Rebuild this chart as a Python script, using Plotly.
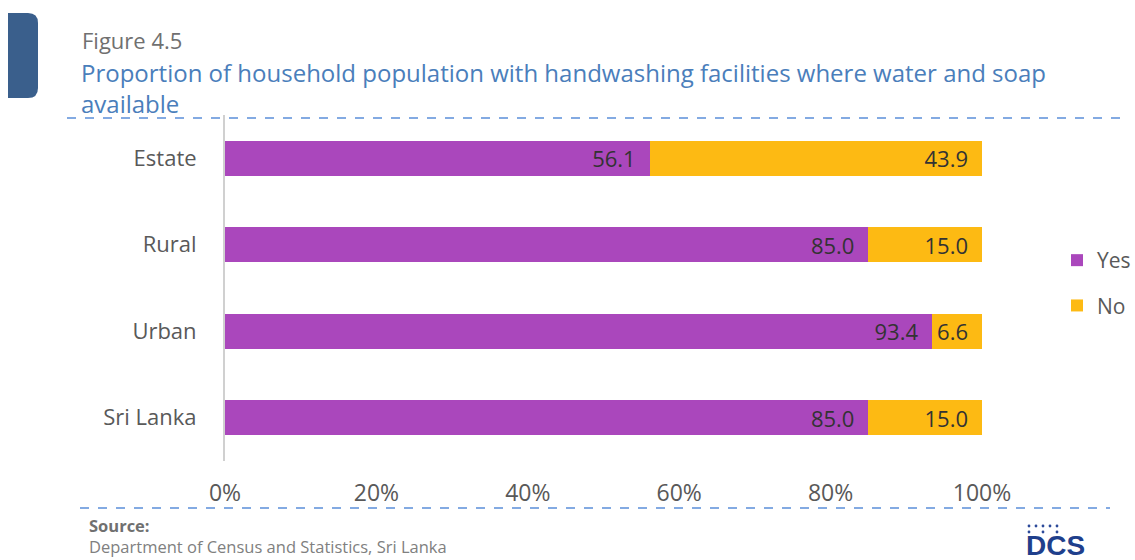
import plotly.graph_objects as go

# Data
categories = ["Estate", "Rural", "Urban", "Sri Lanka"]
yes_values = [56.1, 85.0, 93.4, 85.0]
no_values = [43.9, 15.0, 6.6, 15.0]
x_ticks = [0, 20, 40, 60, 80, 100]
x_tick_labels = ["0%", "20%", "40%", "60%", "80%", "100%"]

W, H = 1135, 560
L, R, T, B = 225, 153, 115, 99
PW, PH = W - L - R, H - T - B


def px(x):
    return (x - L) / PW


def py(y):
    return (H - B - y) / PH


FONT = "'Open Sans', 'Noto Sans', sans-serif"
PURPLE = "#AA47BC"
ORANGE = "#FDBA13"
BLUE_DASH = "#5B8FD9"
LABEL_PAD = "\u2002"  # keeps value labels off the bar ends

fig = go.Figure()
fig.add_trace(go.Bar(
    y=categories, x=yes_values, name="Yes", orientation="h",
    marker=dict(color=PURPLE, line=dict(width=0)),
    text=yes_values, texttemplate="%{x:.1f}" + LABEL_PAD, textposition="inside",
    insidetextanchor="end", textangle=0,
    textfont=dict(color="#333333", size=22, family=FONT),
    legendgroup="yes", width=0.4,
))
fig.add_trace(go.Bar(
    y=categories, x=no_values, name="No", orientation="h",
    marker=dict(color=ORANGE, line=dict(width=0)),
    text=no_values, texttemplate="%{x:.1f}" + LABEL_PAD, textposition="inside",
    insidetextanchor="end", textangle=0,
    textfont=dict(color="#333333", size=22, family=FONT),
    legendgroup="no", width=0.4,
))

shapes = [
    # dashed rules above and below the chart
    dict(type="line", xref="paper", yref="paper", x0=px(67), x1=px(1128),
         y0=py(118), y1=py(118), line=dict(color=BLUE_DASH, width=1.5, dash="dash")),
    dict(type="line", xref="paper", yref="paper", x0=px(80), x1=px(1110),
         y0=py(508), y1=py(508), line=dict(color=BLUE_DASH, width=1.5, dash="dash")),
    # corner tab
    dict(type="path", xref="paper", yref="paper",
         path=(f"M {px(8)},{py(13)} L {px(28)},{py(13)} Q {px(38)},{py(13)} {px(38)},{py(23)} "
               f"L {px(38)},{py(88)} Q {px(38)},{py(98)} {px(28)},{py(98)} L {px(8)},{py(98)} Z"),
         fillcolor="#3A5F8C", line=dict(width=0)),
]
# dots above the DCS mark
for dx in [1029, 1036, 1043, 1050, 1057]:
    shapes.append(dict(type="circle", xref="paper", yref="paper",
                       x0=px(dx - 1.4), x1=px(dx + 1.4), y0=py(526 - 1.4), y1=py(526 + 1.4),
                       fillcolor="#2C4A9A", line=dict(width=0)))
for dx in [1029, 1043, 1057]:
    shapes.append(dict(type="circle", xref="paper", yref="paper",
                       x0=px(dx - 1.4), x1=px(dx + 1.4), y0=py(532 - 1.4), y1=py(532 + 1.4),
                       fillcolor="#2C4A9A", line=dict(width=0)))

annotations = [
    dict(text="Figure 4.5", x=px(80), y=py(40), xref="paper", yref="paper",
         xanchor="left", yanchor="middle", showarrow=False,
         font=dict(size=22, color="#707070", family=FONT)),
    dict(text="Proportion of household population with handwashing facilities where water and soap"
              "<br>available",
         x=px(79), y=py(88), xref="paper", yref="paper", xanchor="left", yanchor="middle",
         align="left", showarrow=False, font=dict(size=24, color="#4A7EBB", family=FONT)),
    dict(text="<b>Source:</b><br><span style='color:#808080'>Department of Census and Statistics, Sri Lanka</span>",
         x=px(87), y=py(536), xref="paper", yref="paper",
         xanchor="left", yanchor="middle", align="left", showarrow=False,
         font=dict(size=16.5, color="#707070", family=FONT)),
    dict(text="<b>DCS</b>", x=px(1055), y=py(545), xref="paper", yref="paper",
         xanchor="center", yanchor="middle", showarrow=False,
         font=dict(size=28, color="#1F3F8C", family="'Liberation Sans', Arial, sans-serif")),
]

fig.update_layout(
    width=W, height=H,
    margin=dict(l=L, r=R, t=T, b=B, pad=0, autoexpand=False),
    paper_bgcolor="white", plot_bgcolor="white",
    barmode="stack", bargap=0.6,
    font=dict(family=FONT, color="#595959"),
    uniformtext=dict(minsize=22, mode="show"),
    showlegend=True,
    legend=dict(x=px(1057), y=py(240), xanchor="left", yanchor="top",
                traceorder="grouped", tracegroupgap=15,
                font=dict(size=21, color="#595959", family=FONT),
                itemwidth=30, bgcolor="rgba(0,0,0,0)"),
    shapes=shapes,
    annotations=annotations,
    xaxis=dict(range=[0, 100], tickvals=x_ticks, ticktext=x_tick_labels,
               showgrid=False, zeroline=False, showline=False,
               tickfont=dict(size=23, color="#595959", family=FONT),
               ticks="", ticklabelstandoff=16),
    yaxis=dict(categoryorder="array", categoryarray=categories, autorange="reversed",
               showgrid=False, zeroline=False, showline=True, linecolor="#D0D0D0",
               linewidth=2, ticks="", ticklabelstandoff=22,
               tickfont=dict(size=22, color="#595959", family=FONT)),
)

fig.write_html("out.html")
